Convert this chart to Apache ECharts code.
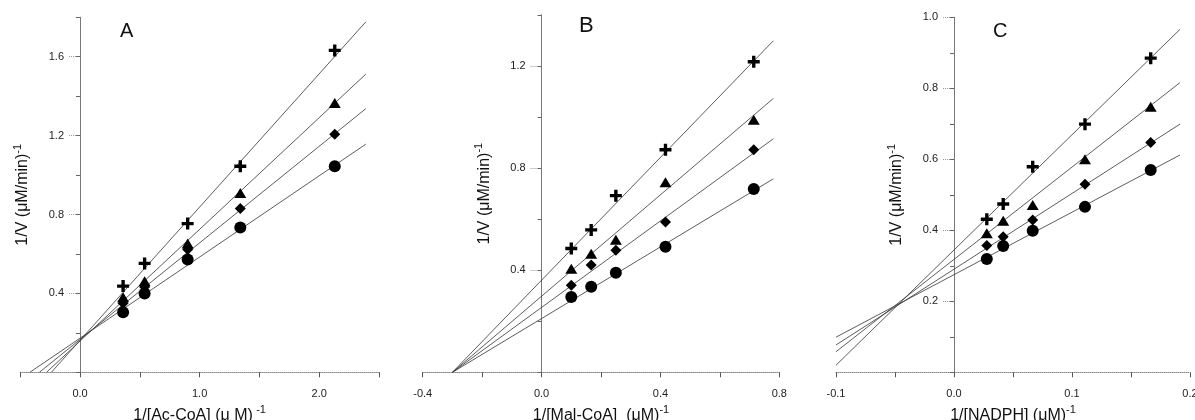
<!DOCTYPE html>
<html>
<head>
<meta charset="utf-8">
<script src="https://cdn.jsdelivr.net/npm/echarts@6/dist/echarts.min.js"></script>
<style>
  html, body { margin: 0; padding: 0; background: #fff; }
  #chart { width: 1195px; height: 420px; }
</style>
</head>
<body>
<div id="chart"></div>
<script>
// ---- panel A : 1/[Ac-CoA]
var xA = [0.36, 0.54, 0.90, 1.34, 2.13];
var aCross = [0.437, 0.552, 0.754, 1.045, 1.632];
var aTriangle = [0.381, 0.462, 0.653, 0.909, 1.365];
var aDiamond = [0.350, 0.433, 0.623, 0.830, 1.207];
var aCircle = [0.304, 0.400, 0.572, 0.734, 1.045];
// fitted lines (cross, triangle, diamond, circle): start and end points
var aFitStart = [[-0.24, 0], [-0.28, 0], [-0.34, 0], [-0.42, 0]];
var aFitEnd = [[2.39, 1.777], [2.39, 1.512], [2.39, 1.337], [2.39, 1.157]];
var xTicksA = [0, 1, 2];
var yTicksA = [0.4, 0.8, 1.2, 1.6];

// ---- panel B : 1/[Mal-CoA]
var xB = [0.1, 0.167, 0.25, 0.417, 0.714];
var bCross = [0.485, 0.558, 0.692, 0.872, 1.217];
var bTriangle = [0.406, 0.465, 0.519, 0.745, 0.990];
var bDiamond = [0.341, 0.420, 0.478, 0.589, 0.872];
var bCircle = [0.295, 0.335, 0.390, 0.492, 0.718];
var bFitStart = [[-0.3, 0], [-0.3, 0], [-0.3, 0], [-0.3, 0]];
var bFitEnd = [[0.78, 1.299], [0.78, 1.073], [0.78, 0.915], [0.78, 0.758]];
var xTicksB = [-0.4, 0, 0.4, 0.8];
var yTicksB = [0.4, 0.8, 1.2];

// ---- panel C : 1/[NADPH]
var xC = [0.0278, 0.0417, 0.0667, 0.111, 0.1667];
var cCross = [0.431, 0.474, 0.579, 0.699, 0.885];
var cTriangle = [0.392, 0.427, 0.471, 0.600, 0.748];
var cDiamond = [0.357, 0.382, 0.429, 0.530, 0.647];
var cCircle = [0.319, 0.356, 0.399, 0.466, 0.570];
var cFitStart = [[-0.1, 0.020], [-0.1, 0.058], [-0.1, 0.077], [-0.1, 0.099]];
var cFitEnd = [[0.1915, 0.966], [0.1915, 0.816], [0.1915, 0.699], [0.1915, 0.612]];
var xTicksC = [-0.1, 0, 0.1, 0.2];
var yTicksC = [0.2, 0.4, 0.6, 0.8, 1.0];

var FONT = '"Liberation Sans", Arial, sans-serif';
var plusPath = 'path://M3.6,0h2.8v3.6h3.6v2.8h-3.6v3.6h-2.8v-3.6h-3.6v-2.8h3.6z';
var symbols = [plusPath, 'triangle', 'diamond', 'circle'];
var symbolSizes = [12, [12, 10], 11, 12];

var panels = [
  { letter: 'A', letterPos: [120, 21], letterSize: 20,
    grid: { left: 20.25, top: 17.3, width: 358.75, height: 355 },
    xMin: -0.5, xMax: 2.5, xStep: 0.5, xTicks: xTicksA,
    yMax: 1.8, yMinor: 0.2, yTicks: yTicksA,
    xName: '{m|1/[Ac-CoA] (μ M)} {s|-1}',
    x: xA, ys: [aCross, aTriangle, aDiamond, aCircle], fitStart: aFitStart, fitEnd: aFitEnd },
  { letter: 'B', letterPos: [579, 15], letterSize: 22,
    grid: { left: 422.7, top: 15, width: 356.6, height: 357.3 },
    xMin: -0.4, xMax: 0.8, xStep: 0.2, xTicks: xTicksB,
    yMax: 1.4, yMinor: 0.2, yTicks: yTicksB,
    xName: '{m|1/[Mal-CoA]  (μM)}{s|-1}',
    x: xB, ys: [bCross, bTriangle, bDiamond, bCircle], fitStart: bFitStart, fitEnd: bFitEnd },
  { letter: 'C', letterPos: [993, 21], letterSize: 20,
    grid: { left: 836, top: 17.3, width: 354, height: 355 },
    xMin: -0.1, xMax: 0.2, xStep: 0.05, xTicks: xTicksC,
    yMax: 1.0, yMinor: 0.1, yTicks: yTicksC,
    xName: '{m|1/[NADPH] (μM)}{s|-1}',
    x: xC, ys: [cCross, cTriangle, cDiamond, cCircle], fitStart: cFitStart, fitEnd: cFitEnd }
];

var nameRich = {
  m: { fontSize: 16, fontFamily: FONT, color: '#111', lineHeight: 22 },
  s: { fontSize: 11, fontFamily: FONT, color: '#111', lineHeight: 12, verticalAlign: 'top' }
};

var grids = [], xAxes = [], yAxes = [], series = [], titles = [];

panels.forEach(function (p, i) {
  grids.push(Object.assign({ outerBoundsMode: 'none', containLabel: false }, p.grid));

  titles.push({
    text: p.letter, left: p.letterPos[0], top: p.letterPos[1], padding: 0,
    textStyle: { fontFamily: FONT, fontSize: p.letterSize, fontWeight: 'normal', color: '#111' }
  });

  // the y axis sits at x = 0, moved in from the grid's left edge
  var yOffset = -(0 - p.xMin) / (p.xMax - p.xMin) * p.grid.width;

  xAxes.push({
    type: 'value', gridIndex: i, min: p.xMin, max: p.xMax, interval: p.xStep,
    name: p.xName, nameLocation: 'middle', nameGap: 27,
    nameTextStyle: { rich: nameRich },
    axisLine: { onZero: false, lineStyle: { color: '#888', type: 'dotted', width: 1 } },
    axisTick: { length: 5, lineStyle: { color: '#555' } },
    axisLabel: { customValues: p.xTicks, margin: 16, fontSize: 11, fontFamily: FONT, color: '#222',
      formatter: function (v) { return v.toFixed(1); } },
    splitLine: { show: false }
  });

  // major y axis: labels and long ticks
  yAxes.push({
    type: 'value', gridIndex: i, position: 'left', offset: yOffset,
    min: 0, max: p.yMax, interval: p.yMinor,
    name: '{m|1/V (μM/min)}{s|-1}', nameLocation: 'middle', nameGap: 46, nameRotate: 90,
    nameTextStyle: { rich: nameRich },
    axisLine: { onZero: false, lineStyle: { color: '#777', width: 1 } },
    axisTick: { customValues: p.yTicks, length: 11, lineStyle: { color: '#999', type: 'dotted' } },
    axisLabel: { customValues: p.yTicks, margin: 16, fontSize: 11, fontFamily: FONT, color: '#222',
      formatter: function (v) { return v.toFixed(1); } },
    splitLine: { show: false }
  });
  // minor y axis: short ticks only
  yAxes.push({
    type: 'value', gridIndex: i, position: 'left', offset: yOffset,
    min: 0, max: p.yMax, interval: p.yMinor,
    axisLine: { show: true, onZero: false, lineStyle: { color: '#777', width: 1 } },
    axisTick: { length: 4, lineStyle: { color: '#666' } },
    axisLabel: { show: false },
    splitLine: { show: false }
  });

  p.fitStart.forEach(function (start, k) {
    series.push({
      type: 'line', xAxisIndex: i, yAxisIndex: i * 2, z: 1,
      data: [start, p.fitEnd[k]], symbol: 'none', silent: true,
      lineStyle: { color: '#333', width: 0.8 }
    });
  });

  p.ys.forEach(function (ys, k) {
    series.push({
      type: 'scatter', xAxisIndex: i, yAxisIndex: i * 2, z: 3,
      symbol: symbols[k], symbolSize: symbolSizes[k],
      itemStyle: { color: '#000', opacity: 1 },
      data: p.x.map(function (x, j) { return [x, ys[j]]; })
    });
  });
});

var chart = echarts.init(document.getElementById('chart'), null, { renderer: 'canvas' });
chart.setOption({
  animation: false,
  backgroundColor: '#fff',
  title: titles,
  grid: grids,
  xAxis: xAxes,
  yAxis: yAxes,
  series: series
});
</script>
</body>
</html>
